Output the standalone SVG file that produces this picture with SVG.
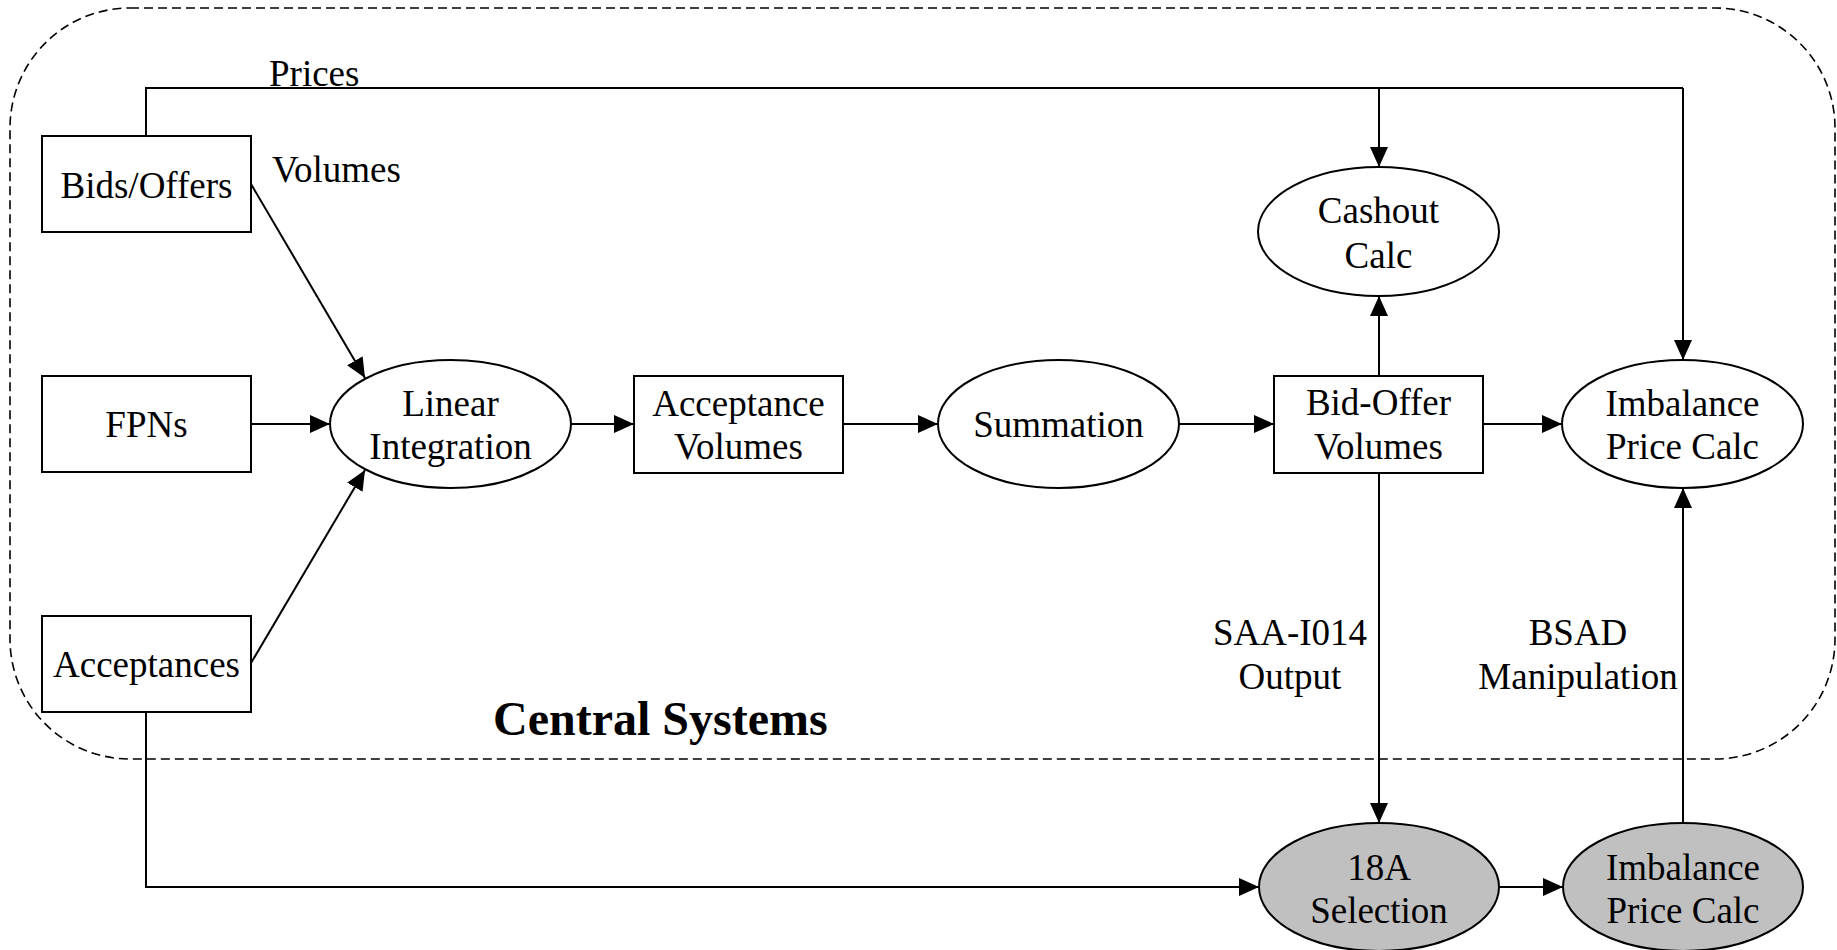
<svg xmlns="http://www.w3.org/2000/svg" width="1837" height="950" viewBox="0 0 1837 950">
<defs>
<style>
.bg{fill:#ffffff}
.frame{fill:none;stroke:#000;stroke-width:1.6;stroke-dasharray:9 5}
.box{fill:#fff;stroke:#000;stroke-width:2}
.oval{fill:#fff;stroke:#000;stroke-width:2}
.grey{fill:#c0c0c0;stroke:#000;stroke-width:2}
.edge{fill:none;stroke:#000;stroke-width:2}
.arr{fill:none;stroke:#000;stroke-width:2;marker-end:url(#ah)}
text{font-family:"Liberation Serif","Times New Roman",serif;font-size:37px;fill:#000}
.c{text-anchor:middle}
.title{font-weight:bold;font-size:48px}
</style>
<marker id="ah" markerUnits="userSpaceOnUse" markerWidth="20" markerHeight="18" refX="20" refY="9" orient="auto">
<path d="M0,0 L20,9 L0,18 z" fill="#000"/>
</marker>
</defs>
<rect class="bg" x="0" y="0" width="1837" height="950"/>
<g id="central-systems">
<rect class="frame" x="10" y="8" width="1825" height="751" rx="120" ry="120"/>
<text class="title" x="493" y="735">Central Systems</text>
</g>
<g id="connectors">
<path class="edge" d="M146,136 V88 H1683"/>
<path class="arr" d="M1683,88 V360"/>
<path class="arr" d="M1379,88 V167"/>
<path class="arr" d="M251,184 L365,378"/>
<path class="arr" d="M251,424 H330"/>
<path class="arr" d="M251,663 L365,470"/>
<path class="arr" d="M571,424 H634"/>
<path class="arr" d="M843,424 H938"/>
<path class="arr" d="M1179,424 H1274"/>
<path class="arr" d="M1379,376 V296"/>
<path class="arr" d="M1483,424 H1562"/>
<path class="arr" d="M1379,473 V823"/>
<path class="arr" d="M146,712 V887 H1259"/>
<path class="arr" d="M1499,887 H1563"/>
<path class="arr" d="M1683,823 V488"/>
<text x="269" y="86">Prices</text>
<text x="272" y="182">Volumes</text>
<text class="c" x="1290" y="645">SAA-I014</text>
<text class="c" x="1290" y="689">Output</text>
<text class="c" x="1578" y="645">BSAD</text>
<text class="c" x="1578" y="689">Manipulation</text>
</g>
<g id="bids-offers">
<rect class="box" x="42" y="136" width="209" height="96"/>
<text class="c" x="146.5" y="198">Bids/Offers</text>
</g>
<g id="fpns">
<rect class="box" x="42" y="376" width="209" height="96"/>
<text class="c" x="146.5" y="437">FPNs</text>
</g>
<g id="acceptances">
<rect class="box" x="42" y="616" width="209" height="96"/>
<text class="c" x="146.5" y="677">Acceptances</text>
</g>
<g id="linear-integration">
<ellipse class="oval" cx="450.5" cy="424" rx="120.5" ry="64"/>
<text class="c" x="450.5" y="416">Linear</text>
<text class="c" x="450.5" y="459">Integration</text>
</g>
<g id="acceptance-volumes">
<rect class="box" x="634" y="376" width="209" height="97"/>
<text class="c" x="738.5" y="416">Acceptance</text>
<text class="c" x="738.5" y="459">Volumes</text>
</g>
<g id="summation">
<ellipse class="oval" cx="1058.5" cy="424" rx="120.5" ry="64"/>
<text class="c" x="1058.5" y="437">Summation</text>
</g>
<g id="bid-offer-volumes">
<rect class="box" x="1274" y="376" width="209" height="97"/>
<text class="c" x="1378.5" y="415">Bid-Offer</text>
<text class="c" x="1378.5" y="459">Volumes</text>
</g>
<g id="cashout-calc">
<ellipse class="oval" cx="1378.5" cy="231.5" rx="120.5" ry="64.5"/>
<text class="c" x="1378.5" y="223">Cashout</text>
<text class="c" x="1378.5" y="268">Calc</text>
</g>
<g id="imbalance-price-calc">
<ellipse class="oval" cx="1682.5" cy="424" rx="120.5" ry="64"/>
<text class="c" x="1682.5" y="416">Imbalance</text>
<text class="c" x="1682.5" y="459">Price Calc</text>
</g>
<g id="selection-18a">
<ellipse class="grey" cx="1379" cy="887" rx="120" ry="64"/>
<text class="c" x="1379" y="880">18A</text>
<text class="c" x="1379" y="923">Selection</text>
</g>
<g id="imbalance-price-calc-2">
<ellipse class="grey" cx="1683" cy="887" rx="120" ry="64"/>
<text class="c" x="1683" y="880">Imbalance</text>
<text class="c" x="1683" y="923">Price Calc</text>
</g>
</svg>
